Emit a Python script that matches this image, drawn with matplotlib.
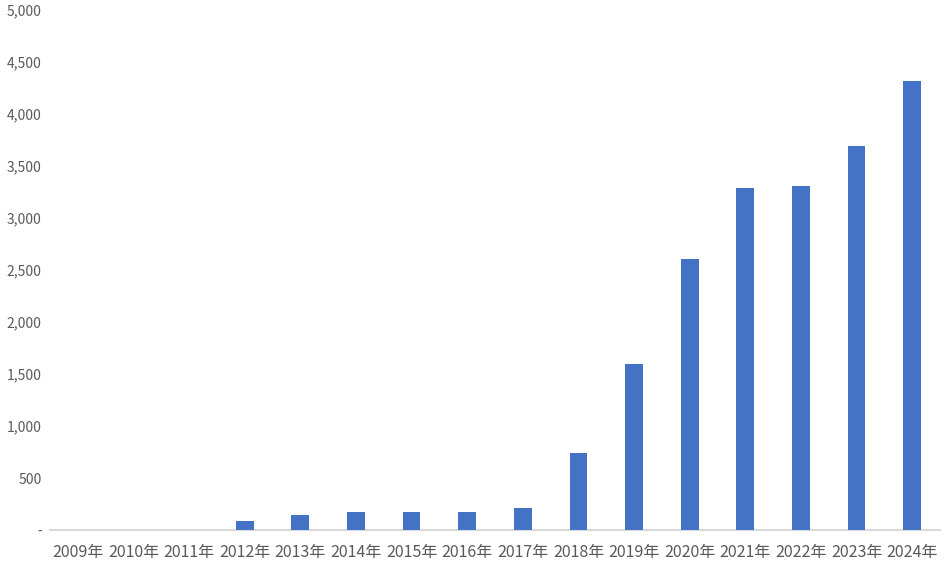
import numpy as np
import matplotlib.pyplot as plt
from matplotlib.ticker import FuncFormatter

plt.rcParams['font.family'] = ['Noto Sans CJK SC', 'DejaVu Sans']

# données
annees = ['2009年', '2010年', '2011年', '2012年', '2013年', '2014年', '2015年', '2016年',
          '2017年', '2018年', '2019年', '2020年', '2021年', '2022年', '2023年', '2024年']
valeurs = [0, 0, 0, 91, 148, 176, 176, 176, 214, 739, 1597, 2607, 3284, 3303, 3694, 4314]
yticks = [0, 500, 1000, 1500, 2000, 2500, 3000, 3500, 4000, 4500, 5000]

W, H = 946, 574
fig = plt.figure(figsize=(W / 100, H / 100), dpi=100)
left, right, bottom, top = 50, 940, 44, 564
ax = fig.add_axes([left / W, bottom / H, (right - left) / W, (top - bottom) / H])

x = np.arange(len(annees))
ax.bar(x, valeurs, width=0.32, color='#4472C4', zorder=3)

ax.set_xlim(-0.5, len(annees) - 0.5)
ax.set_ylim(0, 5000)
ax.set_yticks(yticks)
ax.yaxis.set_major_formatter(FuncFormatter(lambda v, p: '-' if v == 0 else f'{int(v):,}'))
ax.set_xticks(x)
ax.set_xticklabels(annees)

for s in ['top', 'right', 'left']:
    ax.spines[s].set_visible(False)
ax.spines['bottom'].set_color('#d9d9d9')
ax.spines['bottom'].set_linewidth(1.5)

ax.tick_params(axis='both', length=0, colors='#595959')
ax.tick_params(axis='y', pad=6, labelsize=10)
ax.tick_params(axis='x', pad=10, labelsize=11.5)

fig.savefig('out.png', dpi=100)
